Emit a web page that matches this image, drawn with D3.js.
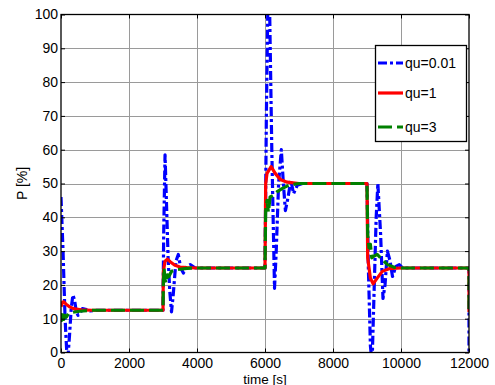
<!DOCTYPE html>
<html>
<head>
<meta charset="utf-8">
<script src="https://cdn.jsdelivr.net/npm/d3@7"></script>
<style>
  html, body { margin: 0; padding: 0; background: #fff; }
  svg { display: block; font-family: "Liberation Sans", Arial, sans-serif; }
</style>
</head>
<body>
<svg id="chart" width="495" height="385"></svg>
<script>
// Power response P [%] over time for three weighting values qu
const seriesNames = ["qu=0.01", "qu=1", "qu=3"];
const seriesColors = ["#0000ff", "#ff0000", "#008000"];

// qu = 0.01 (strongly oscillating)
const quLowT = [0, 60, 120, 170, 200, 250, 300, 350, 400, 450, 500, 560, 630, 720, 850, 1000,
  3000, 3020, 3060, 3100, 3150, 3200, 3250, 3300, 3380, 3450, 3520, 3600, 3700, 3800, 3950, 4200,
  6000, 6040, 6080, 6120, 6200, 6280, 6330, 6400, 6480, 6540, 6600, 6680, 6760, 6840, 6950, 7100,
  9000, 9040, 9100, 9150, 9200, 9270, 9320, 9400, 9470, 9530, 9600, 9680, 9750, 9850, 9950, 10050,
  12000, 12000];
const quLowP = [46, 30, 10, 0, -2, 5, 13, 17, 15.5, 12, 11, 11.5, 13, 12.8, 12.3, 12.5,
  12.5, 35, 58.5, 45, 28, 18, 12, 17, 27, 29, 25, 23.5, 25.5, 26, 25, 25,
  25, 70, 100, 112, 60, 19, 30, 50, 60, 50, 42, 46, 51, 47, 49.5, 50,
  50, 25, 2, -3, 15, 40, 50, 35, 16, 20, 30, 27, 22.5, 25.5, 26, 25,
  25, 0];

// qu = 1
const quMidT = [0, 40, 80, 150, 250, 400, 600, 900,
  3000, 3010, 3060, 3130, 3220, 3350, 3500, 3700, 4000,
  6000, 6020, 6060, 6180, 6300, 6450, 6650, 7000,
  9000, 9020, 9100, 9180, 9300, 9450, 9650, 10000,
  12000, 12000];
const quMidP = [13.5, 14.8, 15, 14.3, 13.5, 12.9, 12.6, 12.5,
  12.5, 24, 27, 27.6, 26.8, 25.8, 25.3, 25.1, 25,
  25, 50, 53, 55, 53, 51.2, 50.4, 50,
  50, 28, 22, 20.3, 22, 24, 24.8, 25,
  25, 12];

// qu = 3
const quHighT = [0, 20, 50, 80, 120, 160, 220, 350, 550, 900,
  3000, 3010, 3030, 3060, 3090, 3130, 3170, 3250, 3400, 3700, 4000,
  6000, 6020, 6060, 6100, 6150, 6250, 6350, 6500, 6700, 7000,
  9000, 9020, 9060, 9100, 9140, 9200, 9300, 9450, 9600, 9800, 10000,
  12000, 12000];
const quHighP = [11.5, 9.5, 12, 9.8, 11, 10.5, 11.5, 11.9, 12.2, 12.5,
  12.5, 20, 25, 21.5, 20.5, 23, 22.5, 24, 24.5, 24.9, 25,
  25, 42, 45, 41.5, 46, 46.5, 47.5, 48.5, 49.5, 50,
  50, 35, 31, 32, 28, 28.5, 29, 27.5, 26, 25.2, 25,
  25, 12];

const xTicks = [0, 2000, 4000, 6000, 8000, 10000, 12000];
const yTicks = [0, 10, 20, 30, 40, 50, 60, 70, 80, 90, 100];

const svg = d3.select("#chart");
const plotLeft = 61, plotRight = 469, plotTop = 14.5, plotBottom = 352.5;

const x = d3.scaleLinear().domain([0, 12000]).range([plotLeft, plotRight]);
const y = d3.scaleLinear().domain([0, 100]).range([plotBottom, plotTop]);

// grid
const grid = svg.append("g").attr("stroke", "#9a9a9a").attr("stroke-width", 1);
grid.selectAll("line.v").data(xTicks.slice(1, -1)).join("line")
  .attr("x1", d => Math.round(x(d)) + 0.5).attr("x2", d => Math.round(x(d)) + 0.5)
  .attr("y1", plotTop).attr("y2", plotBottom);
grid.selectAll("line.h").data(yTicks.slice(1, -1)).join("line")
  .attr("y1", d => Math.round(y(d)) + 0.5).attr("y2", d => Math.round(y(d)) + 0.5)
  .attr("x1", plotLeft).attr("x2", plotRight);

// series
svg.append("defs").append("clipPath").attr("id", "plotClip")
  .append("rect").attr("x", plotLeft).attr("y", plotTop)
  .attr("width", plotRight - plotLeft).attr("height", plotBottom - plotTop);

const line = d3.line().x(d => x(d[0])).y(d => y(d[1]));
const series = [
  { pts: d3.zip(quLowT, quLowP), color: seriesColors[0], dash: "9,3,3,3", width: 3.2 },
  { pts: d3.zip(quMidT, quMidP), color: seriesColors[1], dash: null, width: 3.2 },
  { pts: d3.zip(quHighT, quHighP), color: seriesColors[2], dash: "14,5", width: 3.2 }
];
const plot = svg.append("g").attr("clip-path", "url(#plotClip)");
series.forEach(s => {
  plot.append("path").datum(s.pts)
    .attr("d", line)
    .attr("fill", "none")
    .attr("stroke", s.color)
    .attr("stroke-width", s.width)
    .attr("stroke-linejoin", "round")
    .attr("stroke-dasharray", s.dash);
});

// axes
const fontSize = 14;
const xAxis = svg.append("g").attr("transform", `translate(0,${plotBottom})`)
  .call(d3.axisBottom(x).tickValues(xTicks).tickFormat(d3.format("d")).tickSize(-4).tickPadding(5.5));
const yAxis = svg.append("g").attr("transform", `translate(${plotLeft},0)`)
  .call(d3.axisLeft(y).tickValues(yTicks).tickSize(-4).tickPadding(3));
const xTop = svg.append("g").attr("transform", `translate(0,${plotTop})`)
  .call(d3.axisTop(x).tickValues(xTicks).tickFormat("").tickSize(-4));
const yRight = svg.append("g").attr("transform", `translate(${plotRight},0)`)
  .call(d3.axisRight(y).tickValues(yTicks).tickFormat("").tickSize(-4));
[xAxis, yAxis, xTop, yRight].forEach(g => {
  g.select(".domain").remove();
  g.selectAll("line").attr("stroke", "#000");
  g.selectAll("text").attr("font-size", fontSize).attr("fill", "#000")
    .attr("font-family", "'Liberation Sans', Arial, sans-serif");
});

// frame
svg.append("rect").attr("x", plotLeft).attr("y", plotTop)
  .attr("width", plotRight - plotLeft).attr("height", plotBottom - plotTop)
  .attr("fill", "none").attr("stroke", "#000").attr("stroke-width", 1.3);

// axis labels
svg.append("text").attr("x", (plotLeft + plotRight) / 2).attr("y", 383.5)
  .attr("text-anchor", "middle").attr("font-size", 13.5).text("time [s]");
svg.append("text").attr("transform", `translate(27,${(plotTop + plotBottom) / 2}) rotate(-90)`)
  .attr("text-anchor", "middle").attr("font-size", fontSize).text("P [%]");

// legend
const lg = svg.append("g");
lg.append("rect").attr("x", 375.5).attr("y", 45.5).attr("width", 91).attr("height", 96)
  .attr("fill", "#fff").attr("stroke", "#000").attr("stroke-width", 1.3);
const legendY = [63, 93, 127];
series.forEach((s, i) => {
  lg.append("line").attr("x1", 378).attr("x2", 403)
    .attr("y1", legendY[i]).attr("y2", legendY[i])
    .attr("stroke", s.color).attr("stroke-width", s.width)
    .attr("stroke-dasharray", s.dash);
  lg.append("text").attr("x", 405).attr("y", legendY[i] + 5)
    .attr("font-size", fontSize).text(seriesNames[i]);
});
</script>
</body>
</html>
